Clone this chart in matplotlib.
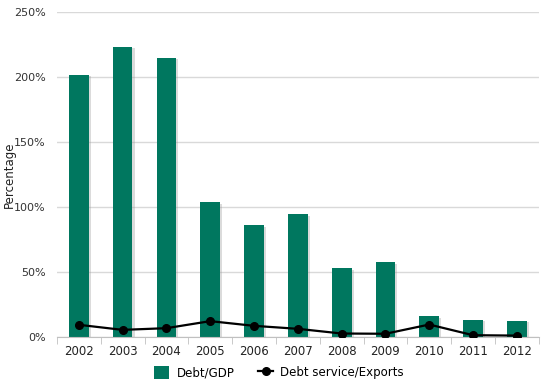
import numpy as np
import matplotlib
matplotlib.use("Agg")
import matplotlib.pyplot as plt
import matplotlib.patheffects as pe
from matplotlib.ticker import FuncFormatter, FixedLocator
from matplotlib.lines import Line2D
from matplotlib.patches import Patch

# ----------------------------------
# DATA
# ----------------------------------

years = ["2002", "2003", "2004", "2005", "2006", "2007",
         "2008", "2009", "2010", "2011", "2012"]
debt_gdp = [201.5, 223, 214.5, 103.5, 86, 94.5, 53, 57.5, 16, 13.5, 12.5]
debt_service = [9.5, 5.6, 6.9, 12.3, 8.7, 6.4, 2.8, 2.6, 9.7, 1.5, 1.2]

GREEN = "#00775F"

# ----------------------------------
# PLOT
# ----------------------------------

plt.rcParams["font.family"] = "DejaVu Sans"

fig = plt.figure(figsize=(5.47, 3.84), dpi=100)
ax = fig.add_axes([0.104, 0.122, 0.881, 0.847])

x = np.arange(len(years))

bars = ax.bar(x, debt_gdp, width=0.45, color=GREEN, zorder=2)
for b in bars:
    b.set_path_effects([
        pe.SimplePatchShadow(offset=(1.5, -1), shadow_rgbFace="#999999", alpha=0.35),
        pe.Normal(),
    ])

ax.plot(x, debt_service, color="black", lw=1.6, marker="o", ms=5.5, zorder=3)

ax.set_xlim(-0.5, len(years) - 0.5)
ax.set_ylim(0, 250)
ax.set_yticks([0, 50, 100, 150, 200, 250])
ax.yaxis.set_major_formatter(FuncFormatter(lambda v, p: f"{int(v)}%"))
ax.grid(axis="y", color="#D9D9D9", lw=1, zorder=0)

ax.set_xticks(x)
ax.set_xticklabels(years)
ax.xaxis.set_minor_locator(FixedLocator(np.arange(-0.5, len(years), 1)))
ax.tick_params(axis="x", which="major", length=0, pad=6, labelsize=8.5, colors="#222222")
ax.tick_params(axis="x", which="minor", length=5, color="#C0C0C0")
ax.tick_params(axis="y", length=0, pad=8, labelsize=8, colors="#333333")

for s in ["top", "right", "left"]:
    ax.spines[s].set_visible(False)
ax.spines["bottom"].set_color("#C0C0C0")

# y label placed in figure coords so it stays inside the canvas
fig.text(0.018, 0.545, "Percentage", rotation=90, fontsize=8.5,
         ha="center", va="center", color="#222222")

handles = [
    Patch(facecolor=GREEN, edgecolor="none"),
    Line2D([0], [0], color="black", lw=1.6, marker="o", ms=5.5),
]
fig.legend(handles, ["Debt/GDP", "Debt service/Exports"], loc="center",
           bbox_to_anchor=(0.51, 0.03), ncol=2, frameon=False, fontsize=8.5,
           handlelength=1.3, handleheight=1.3, columnspacing=2.0, handletextpad=0.6)

fig.savefig("out.png", dpi=100)
